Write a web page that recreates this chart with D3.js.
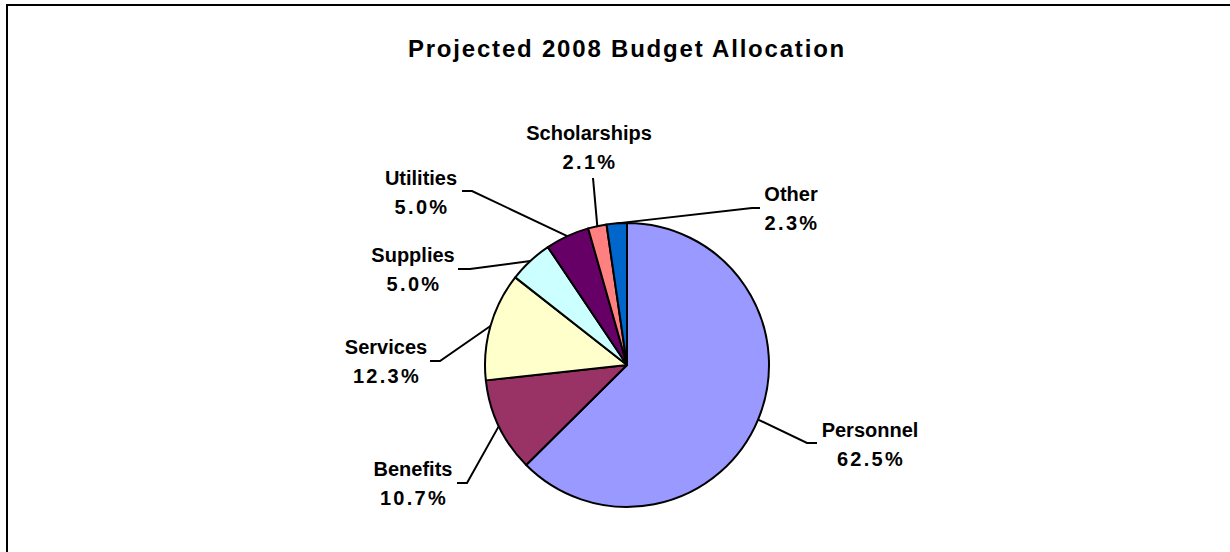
<!DOCTYPE html>
<html>
<head>
<meta charset="utf-8">
<script src="https://cdn.jsdelivr.net/npm/d3@7"></script>
<style>
  html, body { margin: 0; padding: 0; background: #fff; }
  svg { display: block; }
  text { font-family: "Liberation Sans", Arial, Helvetica, sans-serif; font-weight: bold; fill: #000; }
</style>
</head>
<body>
<svg id="chart" width="1230" height="552"></svg>
<script>
// Budget shares (percent), clockwise from 12 o'clock
const categories = ["Personnel", "Benefits", "Services", "Supplies", "Utilities", "Scholarships", "Other"];
const shares = [62.5, 10.7, 12.3, 5.0, 5.0, 2.1, 2.3];
const sliceColors = ["#9999FF", "#993366", "#FFFFCC", "#CCFFFF", "#660066", "#FF8080", "#0066CC"];
const chartTitle = "Projected 2008 Budget Allocation";

// Label placement relative to the pie centre: text anchor, leader elbow, leader end
const labelLayout = [
  { text: [243, 72],   elbow: [180, 78],   end: [190, 78] },
  { text: [-214, 111], elbow: [-160, 118], end: [-170, 118] },
  { text: [-241, -11], elbow: [-187, -4],  end: [-197, -4] },
  { text: [-214, -103], elbow: [-157, -96], end: [-169, -96] },
  { text: [-206, -180], elbow: [-155, -174], end: [-165, -174] },
  { text: [-38, -225], elbow: [-34, -187], end: [-34, -187] },
  { text: [164, -164], elbow: [125, -157], end: [133, -157] }
];

const W = 1230, H = 552;
const cx = 627, cy = 365, radius = 142;
const lineGap = 28.5;

const svg = d3.select("#chart");

// frame
svg.append("rect")
  .attr("x", 7).attr("y", 5)
  .attr("width", W + 20).attr("height", H + 20)
  .attr("fill", "none").attr("stroke", "#000").attr("stroke-width", 2);

// title
svg.append("text")
  .attr("x", 627).attr("y", 57)
  .attr("text-anchor", "middle")
  .style("font-size", "24px")
  .style("letter-spacing", "1.8px")
  .text(chartTitle);

const rows = categories.map((c, i) => ({ name: c, value: shares[i], color: sliceColors[i], layout: labelLayout[i] }));

const pie = d3.pie().sort(null).value(d => d.value);
const arcs = pie(rows);
const arc = d3.arc().innerRadius(0).outerRadius(radius);

const g = svg.append("g").attr("transform", `translate(${cx},${cy})`);

g.selectAll("path.slice")
  .data(arcs)
  .join("path")
  .attr("class", "slice")
  .attr("d", arc)
  .attr("fill", d => d.data.color)
  .attr("stroke", "#000")
  .attr("stroke-width", 2)
  .attr("stroke-linejoin", "round");

// leader lines start on the outer edge at each slice's mid-angle
const edgePoint = d => {
  const a = (d.startAngle + d.endAngle) / 2;
  return [radius * Math.sin(a), -radius * Math.cos(a)];
};

g.selectAll("path.leader")
  .data(arcs)
  .join("path")
  .attr("class", "leader")
  .attr("d", d => d3.line()([edgePoint(d), d.data.layout.elbow, d.data.layout.end]))
  .attr("fill", "none")
  .attr("stroke", "#000")
  .attr("stroke-width", 2);

const fmt = d3.format(".1%");
const labels = g.selectAll("g.label")
  .data(arcs)
  .join("g")
  .attr("class", "label")
  .attr("transform", d => `translate(${d.data.layout.text[0]},${d.data.layout.text[1]})`);

labels.append("text")
  .attr("text-anchor", "middle")
  .style("font-size", "20px")
  .text(d => d.data.name);

labels.append("text")
  .attr("x", 1)
  .attr("y", lineGap)
  .attr("text-anchor", "middle")
  .style("font-size", "20px")
  .style("letter-spacing", "2.3px")
  .text(d => fmt(d.data.value / 100));
</script>
</body>
</html>
